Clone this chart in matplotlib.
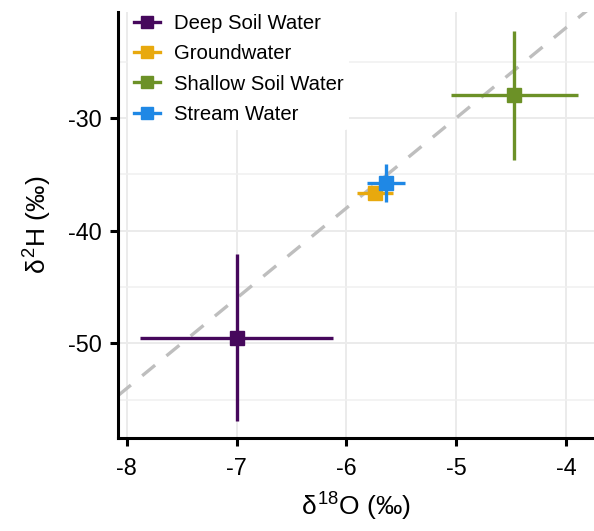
import matplotlib
matplotlib.use("Agg")
import matplotlib.pyplot as plt
from matplotlib.lines import Line2D
import numpy as np

plt.rcParams['font.family'] = ['Liberation Sans', 'DejaVu Sans']
plt.rcParams['mathtext.fontset'] = 'custom'
plt.rcParams['mathtext.rm'] = 'Liberation Sans'
plt.rcParams['mathtext.it'] = 'Liberation Sans'

# Mean isotope composition per water source with standard deviations
sources = ["Deep Soil Water", "Groundwater", "Shallow Soil Water", "Stream Water"]
d18o_mean = [-7.00, -5.74, -4.47, -5.64]
d18o_sd = [0.88, 0.16, 0.58, 0.17]
d2h_mean = [-49.5, -36.7, -28.0, -35.8]
d2h_sd = [7.4, 0.45, 5.7, 1.7]
colors = ["#46085C", "#E8A90E", "#6C9127", "#1F88E5"]

# Global meteoric water line: d2H = 8 * d18O + 10
gmwl_slope = 8
gmwl_intercept = 10

xlim = (-8.08, -3.745)
ylim = (-58.4, -20.6)

fig = plt.figure(figsize=(5.94, 5.31), dpi=100)
ax = fig.add_axes([118 / 594, 93 / 531, 1 - 118 / 594, (438 - 12) / 531])

ax.set_xlim(*xlim)
ax.set_ylim(*ylim)

# grid
for xv in [-8, -7, -6, -5, -4]:
    ax.axvline(xv, color="#EBEBEB", lw=1.4, zorder=0)
for yv in [-50, -40, -30]:
    ax.axhline(yv, color="#EBEBEB", lw=1.4, zorder=0)
for yv in [-55, -45, -35, -25]:
    ax.axhline(yv, color="#F0F0F0", lw=1.1, zorder=0)

xx = np.array(xlim)
ax.plot(xx, gmwl_slope * xx + gmwl_intercept, color="#BEBEBE", lw=2.4,
        dashes=(5.0, 4.4), zorder=1)

handles = []
for name, x, xe, y, ye, c in zip(sources, d18o_mean, d18o_sd, d2h_mean, d2h_sd, colors):
    ax.errorbar(x, y, xerr=xe, yerr=ye, fmt='s', color=c, ecolor=c,
                elinewidth=2.4, markersize=10, capsize=0, zorder=3)
    handles.append(Line2D([], [], color=c, lw=2.4, marker='s', markersize=8))

leg = ax.legend(handles, sources, loc="upper left", bbox_to_anchor=(0.02, 1.01),
                fontsize=14.6, frameon=True, facecolor="white", edgecolor="none",
                framealpha=1, handlelength=1.3, handletextpad=0.68,
                labelspacing=0.56, borderpad=0.3, borderaxespad=0)
leg.set_zorder(5)

for side in ["top", "right"]:
    ax.spines[side].set_visible(False)
for side in ["left", "bottom"]:
    ax.spines[side].set_linewidth(2.2)
    ax.spines[side].set_color("black")

ax.set_xticks([-8, -7, -6, -5, -4])
ax.set_xticklabels(["-8", "-7", "-6", "-5", "-4"])
ax.set_yticks([-50, -40, -30])
ax.set_yticklabels(["-50", "-40", "-30"])
ax.tick_params(axis="both", length=5.5, width=2.2, color="black",
               labelsize=16.8, labelcolor="black")
ax.tick_params(axis="x", pad=8)
ax.tick_params(axis="y", pad=6)

ax.set_xlabel(r"$\delta^{18}$O (‰)", fontsize=19, labelpad=8)
ax.set_ylabel(r"$\delta^{2}$H (‰)", fontsize=19, labelpad=10)

fig.savefig("out.png", dpi=100)
